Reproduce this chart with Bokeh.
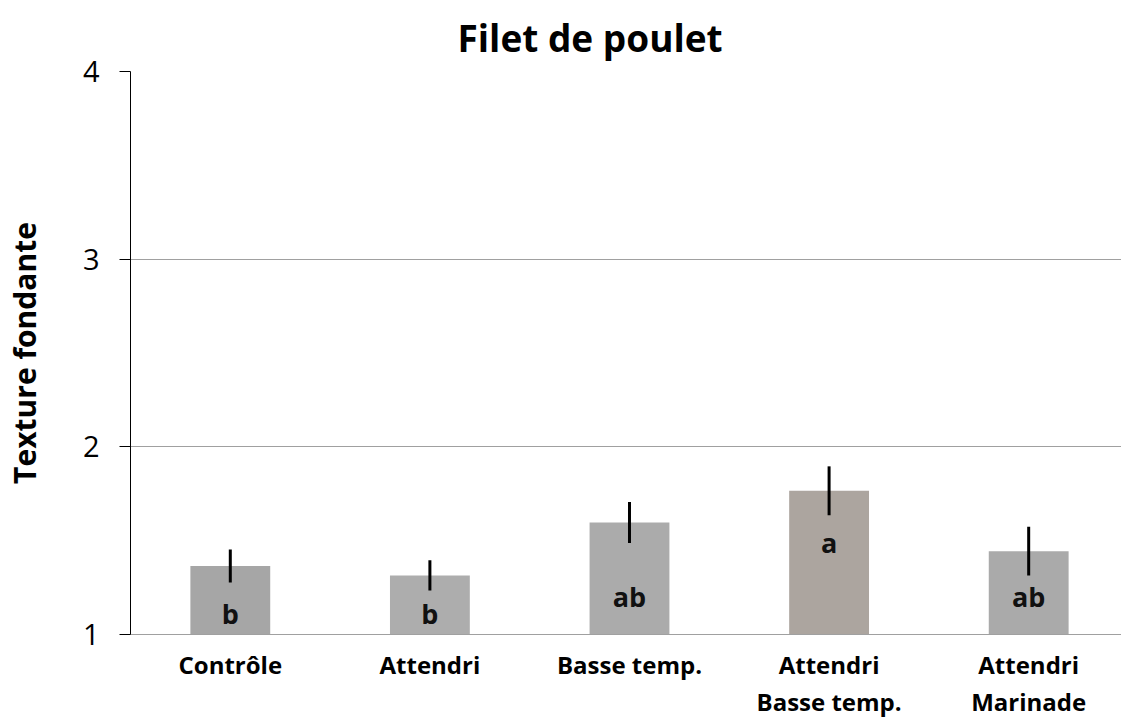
from bokeh.plotting import figure
from bokeh.models import Range1d, FixedTicker
from bokeh.embed import file_html
from bokeh.resources import INLINE
from bokeh.core.properties import value

# ---- data ----
title_text = "Filet de poulet"
categories = ["Contrôle", "Attendri", "Basse temp.", "Attendri\nBasse temp.", "Attendri\nMarinade"]
means = [1.365, 1.315, 1.597, 1.766, 1.444]
errors = [0.088, 0.080, 0.109, 0.130, 0.130]
letters = ["b", "b", "ab", "a", "ab"]
letter_y = [1.11, 1.11, 1.20, 1.49, 1.20]
bar_colors = ["#a6a6a6", "#adadad", "#ababab", "#aca59f", "#aaaaaa"]
y_ticks = [1, 2, 3, 4]

FONT = "Open Sans"

xs = [i + 0.5 for i in range(len(categories))]
upper = [m + e for m, e in zip(means, errors)]
lower = [m - e for m, e in zip(means, errors)]

p = figure(width=1121, height=720, output_backend="svg", toolbar_location=None,
           x_range=Range1d(0, 4.965), y_range=Range1d(1, 4),
           min_border_left=128, min_border_top=71, min_border_bottom=86,
           min_border_right=0)

p.title.text = title_text
p.title.align = "left"
p.title.offset = 327
p.title.vertical_align = "top"
p.title.text_line_height = 0.6
p.title.text_font = FONT
p.title.text_font_size = "37px"
p.title.text_font_style = "bold"
p.title.text_color = "black"
p.title.standoff = 14

p.outline_line_color = None
p.background_fill_color = "white"

p.vbar(x=xs, top=means, bottom=1, width=0.4, fill_color=bar_colors, line_color=None)
p.segment(x0=xs, y0=lower, x1=xs, y1=upper, line_color="black", line_width=3)
p.text(x=xs, y=letter_y, text=letters, text_align="center", text_baseline="middle",
       text_font=value(FONT), text_font_size="27px", text_font_style="bold", text_color="#111111")

# grid
p.xgrid.visible = False
p.ygrid.ticker = FixedTicker(ticks=y_ticks)
p.ygrid.grid_line_color = "#a0a0a0"
p.ygrid.grid_line_width = 1

# y axis
p.yaxis.ticker = FixedTicker(ticks=y_ticks)
p.yaxis.axis_label = "Texture fondante"
p.yaxis.axis_label_text_font = FONT
p.yaxis.axis_label_text_font_size = "30px"
p.yaxis.axis_label_text_font_style = "bold"
p.yaxis.axis_label_text_color = "black"
p.yaxis.axis_label_standoff = 35
p.yaxis.major_label_text_font = FONT
p.yaxis.major_label_text_font_size = "29px"
p.yaxis.major_label_text_color = "black"
p.yaxis.major_label_standoff = 20
p.yaxis.axis_line_color = "black"
p.yaxis.major_tick_line_color = "black"
p.yaxis.major_tick_out = 11
p.yaxis.major_tick_in = 0
p.yaxis.minor_tick_line_color = None

# x axis
p.xaxis.ticker = FixedTicker(ticks=xs)
p.xaxis.major_label_overrides = {x: c for x, c in zip(xs, categories)}
p.xaxis.major_label_text_font = FONT
p.xaxis.major_label_text_font_size = "24px"
p.xaxis.major_label_text_font_style = "bold"
p.xaxis.major_label_text_color = "black"
p.xaxis.major_label_text_line_height = 1.13
p.xaxis.major_label_standoff = 7
p.xaxis.axis_line_color = "#a0a0a0"
p.xaxis.major_tick_line_color = None
p.xaxis.minor_tick_line_color = None

open("out.html", "w").write(file_html(p, INLINE))
